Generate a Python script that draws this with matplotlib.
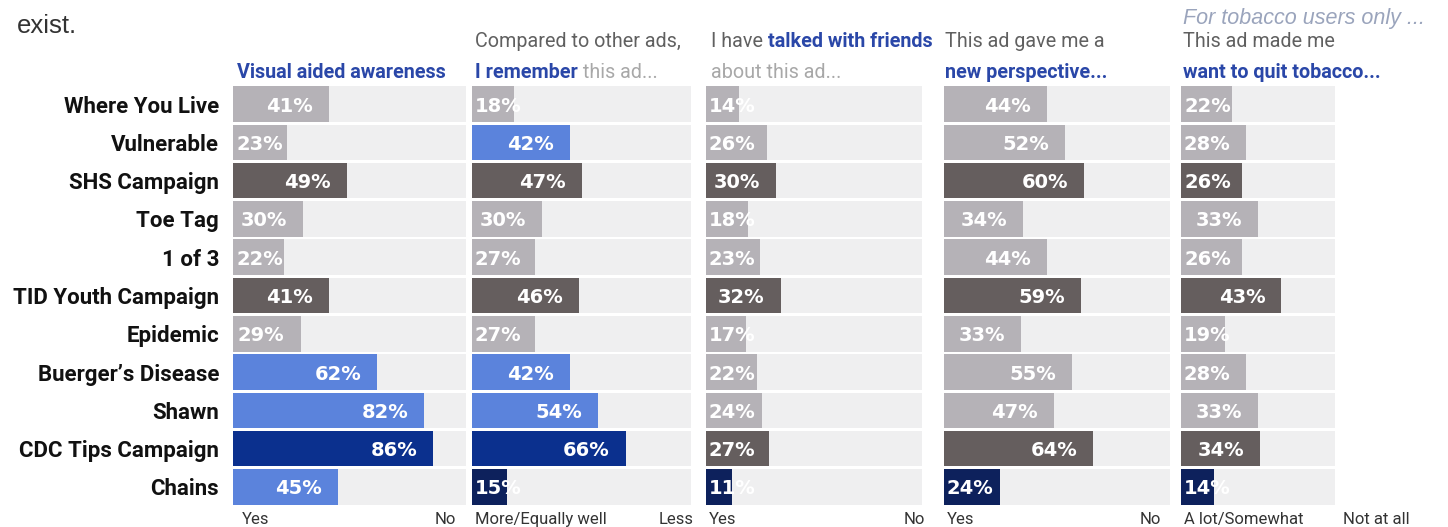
import matplotlib
matplotlib.use("Agg")
import matplotlib.pyplot as plt
from matplotlib.transforms import offset_copy

# ---- data -------------------------------------------------------------
ads = ["Where You Live", "Vulnerable", "SHS Campaign", "Toe Tag", "1 of 3",
       "TID Youth Campaign", "Epidemic", "Buerger\u2019s Disease", "Shawn",
       "CDC Tips Campaign", "Chains"]

awareness = [41, 23, 49, 30, 22, 41, 29, 62, 82, 86, 45]
remember = [18, 42, 47, 30, 27, 46, 27, 42, 54, 66, 15]
talked = [14, 26, 30, 18, 23, 32, 17, 22, 24, 27, 11]
perspective = [44, 52, 60, 34, 44, 59, 33, 55, 47, 64, 24]
quit_tobacco = [22, 28, 26, 33, 26, 43, 19, 28, 33, 34, 14]

# colour group of each bar (L light grey, D dark grey, B blue, K dark blue, N navy)
groups = [
    "LLDLLDLBBKB",
    "LBDLLDLBBKN",
    "LLDLLDLLLDN",
    "LLDLLDLLLDN",
    "LLDLLDLLLDN",
]
scale_ends = [("Yes", "No"), ("More/Equally well", "Less"), ("Yes", "No"),
              ("Yes", "No"), ("A lot/Somewhat", "Not at all")]

# ---- styling ----------------------------------------------------------
PALETTE = {"L": "#b5b2b7", "D": "#655e5e", "B": "#5b83dc",
           "K": "#0b308e", "N": "#0d215c"}
TRACK = "#efeff0"
BLUE_HEAD = "#2a47a8"
GREY_HEAD = "#606060"
LIGHT_HEAD = "#a8a8a8"

W, H = 1448, 527
fig = plt.figure(figsize=(W / 100, H / 100), dpi=100)
fig.patch.set_facecolor("white")

panel_left = [233, 472, 706, 944, 1181]
track_len = [100, 94, 92.5, 97, 66]
right_label_at = [95.5, 95, 94, 93, 98]
PX_PER_PCT = 2.33
rows_top, rows_bottom = 85, 506

series = [awareness, remember, talked, perspective, quit_tobacco]
axes = []
for k, (vals, grp) in enumerate(zip(series, groups)):
    ax = fig.add_axes([panel_left[k] / W, 1 - rows_bottom / H,
                       100 * PX_PER_PCT / W, (rows_bottom - rows_top) / H])
    y = list(range(len(ads)))
    ax.barh(y, [track_len[k]] * len(ads), height=0.93, color=TRACK, zorder=1)
    ax.barh(y, vals, height=0.93, color=[PALETTE[g] for g in grp], zorder=2)
    ax.set_xlim(0, 100)
    ax.set_ylim(len(ads) - 0.5, -0.5)
    for s in ax.spines.values():
        s.set_visible(False)
    ax.set_xticks([])
    if k == 0:
        ax.set_yticks(y)
        ax.set_yticklabels(ads, fontsize=16, fontweight="bold",
                           family="Roboto", color="#111111")
        ax.tick_params(axis="y", length=0, pad=10)
    else:
        ax.set_yticks([])

    right_tr = offset_copy(ax.transData, fig=fig, x=-16, y=-2, units="dots")
    left_tr = offset_copy(ax.transData, fig=fig, x=3, y=-2, units="dots")
    for yi, v in zip(y, vals):
        txt = f"{v}%"
        if v >= 28:
            ax.text(v, yi, txt, transform=right_tr, ha="right", va="center",
                    color="white", fontsize=14, fontweight="bold",
                    family="DejaVu Sans", zorder=3)
        else:
            ax.text(0, yi, txt, transform=left_tr, ha="left", va="center",
                    color="white", fontsize=14, fontweight="bold",
                    family="DejaVu Sans", zorder=3)

    lo, hi = scale_ends[k]
    fig.text((panel_left[k] + (9 if k == 0 else 3)) / W, 1 - 524 / H, lo,
             ha="left", va="baseline", fontsize=12, family="Roboto",
             color="#333333")
    fig.text((panel_left[k] + right_label_at[k] * PX_PER_PCT) / W, 1 - 524 / H,
             hi, ha="right", va="baseline", fontsize=12, family="Roboto",
             color="#333333")
    axes.append(ax)

renderer = fig.canvas.get_renderer()


def header_line(x_px, base_px, pieces, size=14.2):
    """Write a line made of differently styled pieces, one after another."""
    x = x_px
    for text, color, weight in pieces:
        t = fig.text(x / W, 1 - base_px / H, text, ha="left", va="baseline",
                     fontsize=size, family="Roboto", color=color,
                     fontweight=weight)
        x += t.get_window_extent(renderer).width


L1, L2 = 47, 78
header_line(237, L2, [("Visual aided awareness", BLUE_HEAD, "bold")])

header_line(475, L1, [("Compared to other ads,", GREY_HEAD, "normal")])
header_line(475, L2, [("I remember", BLUE_HEAD, "bold"),
                      (" this ad...", LIGHT_HEAD, "normal")])

header_line(711, L1, [("I have ", GREY_HEAD, "normal"),
                      ("talked with friends", BLUE_HEAD, "bold")])
header_line(711, L2, [("about this ad...", LIGHT_HEAD, "normal")])

header_line(945, L1, [("This ad gave me a", GREY_HEAD, "normal")])
header_line(945, L2, [("new perspective...", BLUE_HEAD, "bold")])

fig.text(1183 / W, 1 - 24 / H, "For tobacco users only ...", ha="left",
         va="baseline", fontsize=15.5, style="italic", family="Liberation Sans",
         color="#9aa4bc")
header_line(1183, L1, [("This ad made me", GREY_HEAD, "normal")])
header_line(1183, L2, [("want to quit tobacco...", BLUE_HEAD, "bold")])

fig.text(17 / W, 1 - 33 / H, "exist.", ha="left", va="baseline", fontsize=18.5,
         family="Liberation Sans", color="#333333")

fig.savefig("out.png", dpi=100, facecolor="white")
